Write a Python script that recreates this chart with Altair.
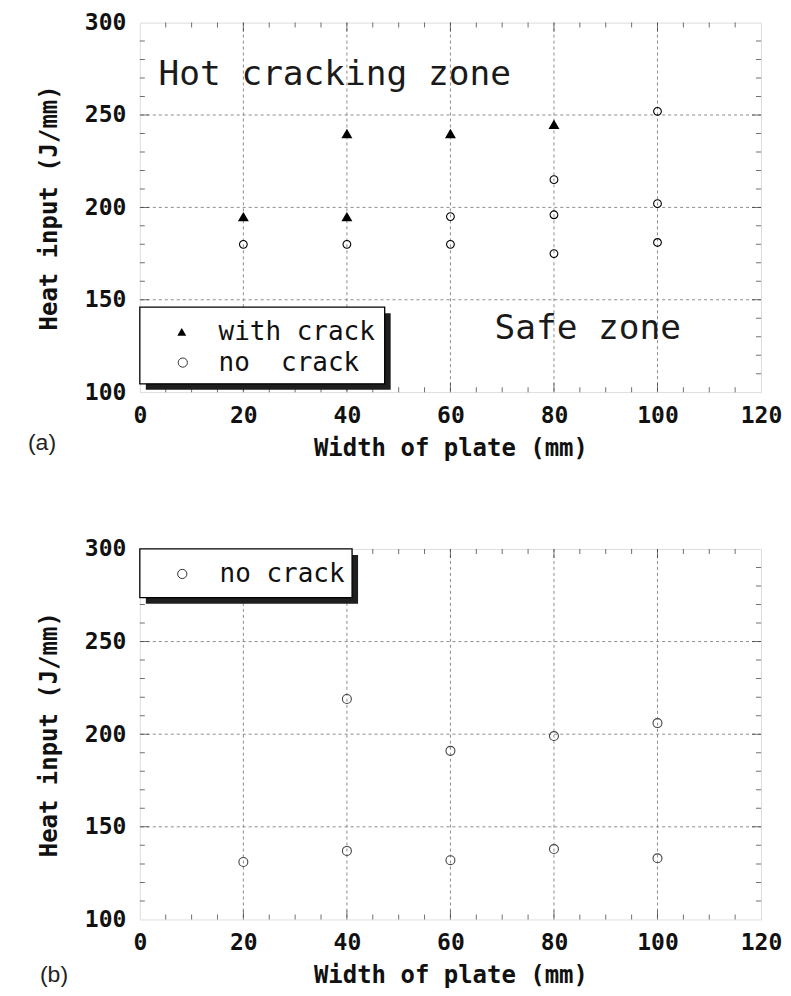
import altair as alt
import pandas as pd

# ---------------- data ----------------
# Panel (a)
a_crack_x = [20, 40, 40, 60, 80]
a_crack_y = [195, 240, 195, 240, 245]
a_nocrack_x = [20, 40, 60, 60, 80, 80, 80, 100, 100, 100]
a_nocrack_y = [180, 180, 195, 180, 215, 196, 175, 252, 202, 181]
# Panel (b)
b_nocrack_x = [20, 40, 40, 60, 60, 80, 80, 100, 100]
b_nocrack_y = [131, 219, 137, 191, 132, 199, 138, 206, 133]

x_domain = [0, 120]
y_domain = [100, 300]
x_labels = [0, 20, 40, 60, 80, 100, 120]
y_labels = [100, 150, 200, 250, 300]
x_grid = [20, 40, 60, 80, 100]
y_grid = [150, 200, 250]
x_minor = [5, 10, 15, 25, 30, 35, 45, 50, 55, 65, 70, 75, 85, 90, 95, 105, 110, 115]
y_minor = [110, 120, 130, 140, 160, 170, 180, 190, 210, 220, 230, 240, 260, 270, 280, 290]

legend_a = ["with crack", "\u00a0no\u00a0\u00a0crack"]
legend_b = ["no crack"]
annot_a = ["Hot cracking zone", "Safe zone"]
x_title = "Width of plate (mm)"
y_title = "Heat input (J/mm)"

# ---------------- style ----------------
MONO = "DejaVu Sans Mono"
W = 622
H_A = 370
H_B = 371
GRID = "#8c8c8c"
TICK = "#333333"

xs = alt.Scale(domain=x_domain, nice=False, zero=False)
ys = alt.Scale(domain=y_domain, nice=False, zero=False)

axis_common = dict(grid=False, ticks=False, domain=False, tickSize=0,
                   labelFont=MONO, labelFontSize=23, labelFontWeight="bold",
                   labelColor="#111", titleFont=MONO, titleFontSize=24,
                   titleFontWeight="bold", titleColor="#111",
                   labelFlush=False, labelOverlap=False)
AX_X = alt.Axis(values=x_labels, title=x_title, labelPadding=12, titlePadding=9,
                **axis_common)
AX_Y = alt.Axis(values=y_labels, title=y_title, labelPadding=14, titlePadding=23,
                **axis_common)


def X():
    return alt.X("x:Q", scale=xs, axis=AX_X, title=x_title)


def Y():
    return alt.Y("y:Q", scale=ys, axis=AX_Y, title=y_title)


def XD(v):
    return alt.XDatum(v, scale=xs, axis=AX_X, title=x_title)


def YD(v):
    return alt.YDatum(v, scale=ys, axis=AX_Y, title=y_title)


def one():
    return alt.Data(values=[{"k": 0}])


def panel(H, points, legend_items, legend_box, annotations, tag, tag_pos):
    layers = []
    # axis carrier (first) + grid lines
    layers.append(
        alt.Chart(pd.DataFrame({"x": x_domain, "y": y_domain}))
        .mark_point(opacity=0)
        .encode(x=X(), y=Y())
    )
    layers.append(
        alt.Chart(pd.DataFrame({"x": x_grid}))
        .mark_rule(color=GRID, strokeDash=[3, 3], strokeWidth=1)
        .encode(x=X())
    )
    layers.append(
        alt.Chart(pd.DataFrame({"y": y_grid}))
        .mark_rule(color=GRID, strokeDash=[3, 3], strokeWidth=1)
        .encode(y=Y())
    )
    # inward ticks on all 4 sides (clipped to plot)
    xt = pd.DataFrame({"x": x_minor + x_grid,
                       "s": [10] * len(x_minor) + [18] * len(x_grid)})
    yt = pd.DataFrame({"y": y_minor + y_grid,
                       "s": [10] * len(y_minor) + [18] * len(y_grid)})
    for yy in (0, H):
        layers.append(
            alt.Chart(xt).mark_tick(orient="vertical", clip=True, color=TICK, thickness=1)
            .encode(x=X(), y=alt.value(yy),
                    size=alt.Size("s:Q", scale=None, legend=None))
        )
    for xx in (0, W):
        layers.append(
            alt.Chart(yt).mark_tick(orient="horizontal", clip=True, color=TICK, thickness=1)
            .encode(y=Y(), x=alt.value(xx),
                    size=alt.Size("s:Q", scale=None, legend=None))
        )
    # data points
    for (px, py, kind, sz) in points:
        df = pd.DataFrame({"x": px, "y": py})
        if kind == "tri":
            mk = alt.Chart(df).mark_point(shape="triangle-up", filled=True,
                                          color="black", size=sz, opacity=1)
        else:
            mk = alt.Chart(df).mark_point(shape="circle", filled=False,
                                          color=kind, size=sz, strokeWidth=1.1,
                                          opacity=1)
        layers.append(mk.encode(x=X(), y=Y()))
    # legend box with shadow
    x0, x1, y0, y1 = legend_box
    layers.append(
        alt.Chart(one()).mark_rect(color="#1e1e1e", xOffset=6, x2Offset=6,
                                   yOffset=6, y2Offset=6)
        .encode(x=XD(x0), x2=alt.datum(x1), y=YD(y0), y2=alt.datum(y1))
    )
    layers.append(
        alt.Chart(one()).mark_rect(fill="white", stroke="black", strokeWidth=1.3)
        .encode(x=XD(x0), x2=alt.datum(x1), y=YD(y0), y2=alt.datum(y1))
    )
    for (label, sym, sx, sy, tx) in legend_items:
        if sym == "tri":
            m = alt.Chart(one()).mark_point(shape="triangle-up", filled=True,
                                            color="black", size=80, opacity=1)
        else:
            m = alt.Chart(one()).mark_point(shape="circle", filled=False,
                                            color="#333", size=85, strokeWidth=1,
                                            opacity=1)
        layers.append(m.encode(x=XD(sx), y=YD(sy)))
        layers.append(
            alt.Chart(one()).mark_text(font=MONO, fontSize=26, align="left",
                                       baseline="middle", color="#111")
            .encode(x=XD(tx), y=YD(sy), text=alt.value(label))
        )
    # annotations
    for (txt, ax, ay) in annotations:
        layers.append(
            alt.Chart(one()).mark_text(font=MONO, fontSize=34.5, align="left",
                                       baseline="alphabetic", color="#1a1a1a")
            .encode(x=XD(ax), y=YD(ay), text=alt.value(txt))
        )
    # panel tag (a)/(b)
    layers.append(
        alt.Chart(one()).mark_text(font="Liberation Sans", fontSize=23, align="left",
                                   baseline="middle", color="#222")
        .encode(x=alt.value(tag_pos[0]), y=alt.value(tag_pos[1]), text=alt.value(tag))
    )
    return alt.layer(*layers).properties(width=W, height=H)


top = panel(
    H_A,
    points=[(a_crack_x, a_crack_y, "tri", 120), (a_nocrack_x, a_nocrack_y, "black", 60)],
    legend_items=[(legend_a[0], "tri", 8.1, 132.6, 15.2),
                  (legend_a[1], "circ", 8.3, 116, 15.2)],
    legend_box=(0, 47.3, 104.5, 146),
    annotations=[(annot_a[0], 3.6, 266), (annot_a[1], 68.5, 129)],
    tag="(a)",
    tag_pos=(-112, H_A + 51),
)

bottom = panel(
    H_B,
    points=[(b_nocrack_x, b_nocrack_y, "#444", 80)],
    legend_items=[(legend_b[0], "circ", 8.2, 286.5, 15.4)],
    legend_box=(0, 41, 273.7, 300),
    annotations=[],
    tag="(b)",
    tag_pos=(-100, H_B + 56),
)

chart = (
    alt.vconcat(top, bottom, spacing=157, bounds="flush")
    .properties(padding={"left": 19, "top": 2, "right": 0, "bottom": 0})
    .configure_view(stroke="#222", strokeWidth=1.2)
    .configure(background="white")
)

chart.save("out.html", embed_options={"renderer": "svg", "actions": False})
